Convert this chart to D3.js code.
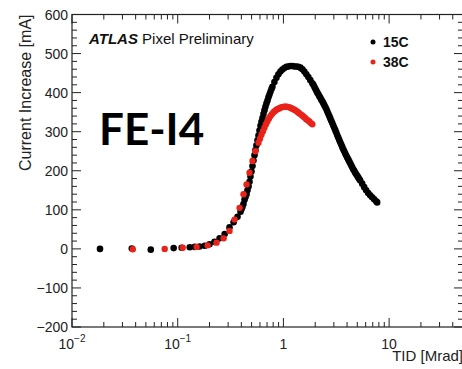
<!DOCTYPE html>
<html><head><meta charset="utf-8">
<script src="https://cdn.jsdelivr.net/npm/d3@7"></script>
<style>body{margin:0;background:#fff}svg{display:block}</style>
</head><body>
<svg id="c" width="462" height="369"></svg>
<script>
// 15C series: TID [Mrad] and current increase [mA]
const tid15 = [0.0184,0.0368,0.0556,0.0916,0.109,0.130,0.145,0.161,0.180,0.200,0.223,0.249,0.278,0.309,0.338,0.368,0.393,0.402,0.410,0.419,0.429,0.438,0.448,0.457,0.468,0.478,0.488,0.499,0.510,0.521,0.533,0.544,0.556,0.569,0.581,0.594,0.607,0.620,0.634,0.648,0.662,0.676,0.691,0.707,0.722,0.738,0.754,0.771,0.787,0.822,0.859,0.897,0.937,0.979,1.022,1.067,1.115,1.164,1.216,1.270,1.326,1.385,1.447,1.511,1.578,1.648,1.721,1.797,1.877,1.919,1.961,2.004,2.048,2.093,2.139,2.186,2.234,2.283,2.333,2.384,2.437,2.490,2.545,2.601,2.657,2.716,2.776,2.837,2.899,2.963,3.028,3.094,3.162,3.232,3.302,3.375,3.449,3.525,3.602,3.681,3.762,3.845,3.929,4.016,4.103,4.194,4.286,4.380,4.476,4.575,4.675,4.777,4.883,4.990,5.100,5.212,5.326,5.563,5.810,6.067,6.337,6.618,6.912,7.219,7.540,7.705];
const cur15 = [0,1,-2,2,3,4,5,6,8,12,18,27,38,55,68,82,95,102,108,115,126,133,140,150,160,172,185,198,212,226,240,253,265,278,290,303,315,325,335,345,355,364,372,380,388,395,402,409,415,427,438,447,454,459,463,466,467,468,468,467,467,466,464,460,454,447,440,432,424,420,415,410,405,400,396,391,387,382,378,373,368,363,358,352,346,340,334,328,322,316,310,304,298,291,285,279,273,267,261,255,250,244,239,234,229,224,219,214,209,204,200,195,191,187,183,179,175,167,158,150,143,137,132,127,122,119];
// 38C series
const tid38 = [0.0376,0.0753,0.1115,0.151,0.192,0.233,0.272,0.309,0.345,0.385,0.419,0.448,0.478,0.510,0.544,0.581,0.600,0.620,0.641,0.662,0.684,0.707,0.730,0.754,0.779,0.805,0.831,0.859,0.887,0.917,0.947,0.979,1.011,1.044,1.079,1.115,1.152,1.190,1.229,1.270,1.312,1.356,1.400,1.447,1.494,1.544,1.595,1.648,1.702,1.759,1.817,1.877];
const cur38 = [-1,0,3,5,9,16,27,46,75,105,140,165,195,225,250,272,282,292,301,310,319,327,334,340,345,350,353,356,358,360,362,363,364,364,364,363,362,360,358,356,354,351,348,345,342,339,336,332,329,326,322,319];
// axis ticks
const yTicks = [-200,-100,0,100,200,300,400,500,600];
const xDecades = [0.01,0.1,1,10];
const xDecadeLabels = [["10","\u22122"],["10","\u22121"],["1",""],["10",""]];
const legendLabels = ["15C","38C"];

const svg = d3.select("#c");
const L = 72, R = 463, T = 14.5, B = 327;
const x = d3.scaleLog().domain([0.01, 50]).range([L, R]);
const y = d3.scaleLinear().domain([-200, 600]).range([B, T]);
const axCol = "#222";

// frame
svg.append("rect").attr("x", L).attr("y", T).attr("width", R - L).attr("height", B - T)
  .attr("fill", "none").attr("stroke", axCol).attr("stroke-width", 1.2);

// y ticks (left & right)
const yMinor = d3.range(-200, 601, 20);
const g = svg.append("g").attr("stroke", axCol).attr("stroke-width", 1);
yMinor.forEach(v => {
  const major = v % 100 === 0;
  const len = major ? 9 : 5;
  g.append("line").attr("x1", L).attr("x2", L + len).attr("y1", y(v)).attr("y2", y(v));
  g.append("line").attr("x1", R).attr("x2", R - len).attr("y1", y(v)).attr("y2", y(v));
});
// x ticks (bottom & top)
const xAll = [];
[0.01, 0.1, 1, 10].forEach(d => { for (let k = 1; k <= 9; k++) { const v = d * k; if (v <= 50) xAll.push([v, k === 1]); } });
xAll.forEach(([v, major]) => {
  const len = major ? 9 : 5;
  g.append("line").attr("x1", x(v)).attr("x2", x(v)).attr("y1", B).attr("y2", B - len);
  g.append("line").attr("x1", x(v)).attr("x2", x(v)).attr("y1", T).attr("y2", T + len);
});

// y tick labels
const font = "'Liberation Sans', Arial, sans-serif";
svg.append("g").selectAll("text").data(yTicks).join("text")
  .attr("x", L - 4).attr("y", d => y(d) + 5)
  .attr("text-anchor", "end").attr("font-family", font).attr("font-size", 14).attr("fill", axCol)
  .text(d => d < 0 ? "\u2212" + Math.abs(d) : d);

// x tick labels
xDecades.forEach((d, i) => {
  const t = svg.append("text").attr("x", x(d)).attr("y", 349)
    .attr("text-anchor", "middle").attr("font-family", font).attr("font-size", 14).attr("fill", axCol);
  t.append("tspan").text(xDecadeLabels[i][0]);
  if (xDecadeLabels[i][1]) t.append("tspan").attr("dy", -7).attr("font-size", 10).text(xDecadeLabels[i][1]);
});

// axis titles
svg.append("text").attr("transform", `translate(31,${T}) rotate(-90)`)
  .attr("text-anchor", "end").attr("font-family", font).attr("font-size", 16).attr("fill", axCol)
  .text("Current Increase [mA]");
svg.append("text").attr("x", 463).attr("y", 361).attr("text-anchor", "end")
  .attr("font-family", font).attr("font-size", 15).attr("fill", axCol).text("TID [Mrad]");

// ATLAS label
const at = svg.append("text").attr("x", 89).attr("y", 44).attr("font-family", font).attr("font-size", 15).attr("fill", "#111");
at.append("tspan").attr("font-weight", "bold").attr("font-style", "italic").text("ATLAS");
at.append("tspan").text(" Pixel Preliminary");

// FE-I4
svg.append("text").attr("x", 99).attr("y", 145).attr("font-family", "Lato, 'Open Sans', sans-serif")
  .attr("font-weight", "bold").attr("font-size", 44).attr("fill", "#000").text("FE-I4");

// data
const colors = ["#000000", "#e8231a"];
const d15 = tid15.map((t, i) => [t, cur15[i]]);
const d38 = tid38.map((t, i) => [t, cur38[i]]);
svg.append("g").selectAll("circle").data(d15).join("circle")
  .attr("cx", d => x(d[0])).attr("cy", d => y(d[1])).attr("r", 3.3).attr("fill", colors[0]);
svg.append("g").selectAll("circle").data(d38).join("circle")
  .attr("cx", d => x(d[0])).attr("cy", d => y(d[1])).attr("r", 3.2).attr("fill", colors[1]);

// legend
legendLabels.forEach((lab, i) => {
  const ly = 42 + i * 20;
  svg.append("circle").attr("cx", 373).attr("cy", ly).attr("r", 2.5).attr("fill", colors[i]);
  svg.append("text").attr("x", 383).attr("y", ly + 5).attr("font-family", font).attr("font-weight", "bold")
    .attr("font-size", 14).attr("fill", "#111").text(lab);
});
</script>
</body></html>
